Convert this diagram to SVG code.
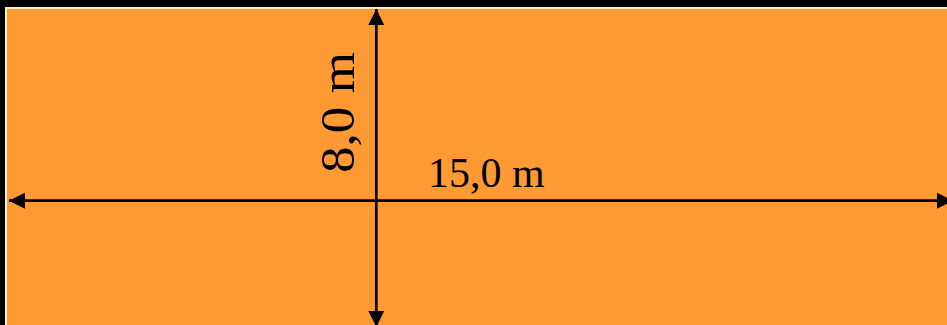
<svg xmlns="http://www.w3.org/2000/svg" width="947" height="325" viewBox="0 0 947 325">
  <defs>
    <style>
      .dim { stroke: #000000; stroke-width: 2.7; fill: none; }
      .lbl { font-family: "Liberation Serif", "Times New Roman", serif; fill: #000000; }
    </style>
    <marker id="ah" markerUnits="userSpaceOnUse" markerWidth="16" markerHeight="16" refX="16" refY="8" orient="auto-start-reverse" viewBox="0 0 16 16">
      <polygon points="0,0 16,8 0,16" fill="#000000"/>
    </marker>
  </defs>
  <rect x="0" y="0" width="947" height="325" fill="#000000"/>
  <g id="plate">
    <rect x="5" y="7" width="942" height="318" fill="#FFF4B8"/>
    <rect x="7" y="9" width="940" height="316" fill="#FF9933"/>
  </g>
  <g id="connectors">
    <line class="dim" x1="9" y1="200.7" x2="953" y2="200.7" marker-start="url(#ah)" marker-end="url(#ah)"/>
    <line class="dim" x1="376.3" y1="9" x2="376.3" y2="327" marker-start="url(#ah)" marker-end="url(#ah)"/>
  </g>
  <g id="label-length">
    <text class="lbl" x="428" y="186.7" font-size="42">15,0 m</text>
  </g>
  <g id="label-width">
    <text class="lbl" font-size="48" transform="translate(354,173) rotate(-90)" textLength="121" lengthAdjust="spacingAndGlyphs">8,0 m</text>
  </g>
</svg>
